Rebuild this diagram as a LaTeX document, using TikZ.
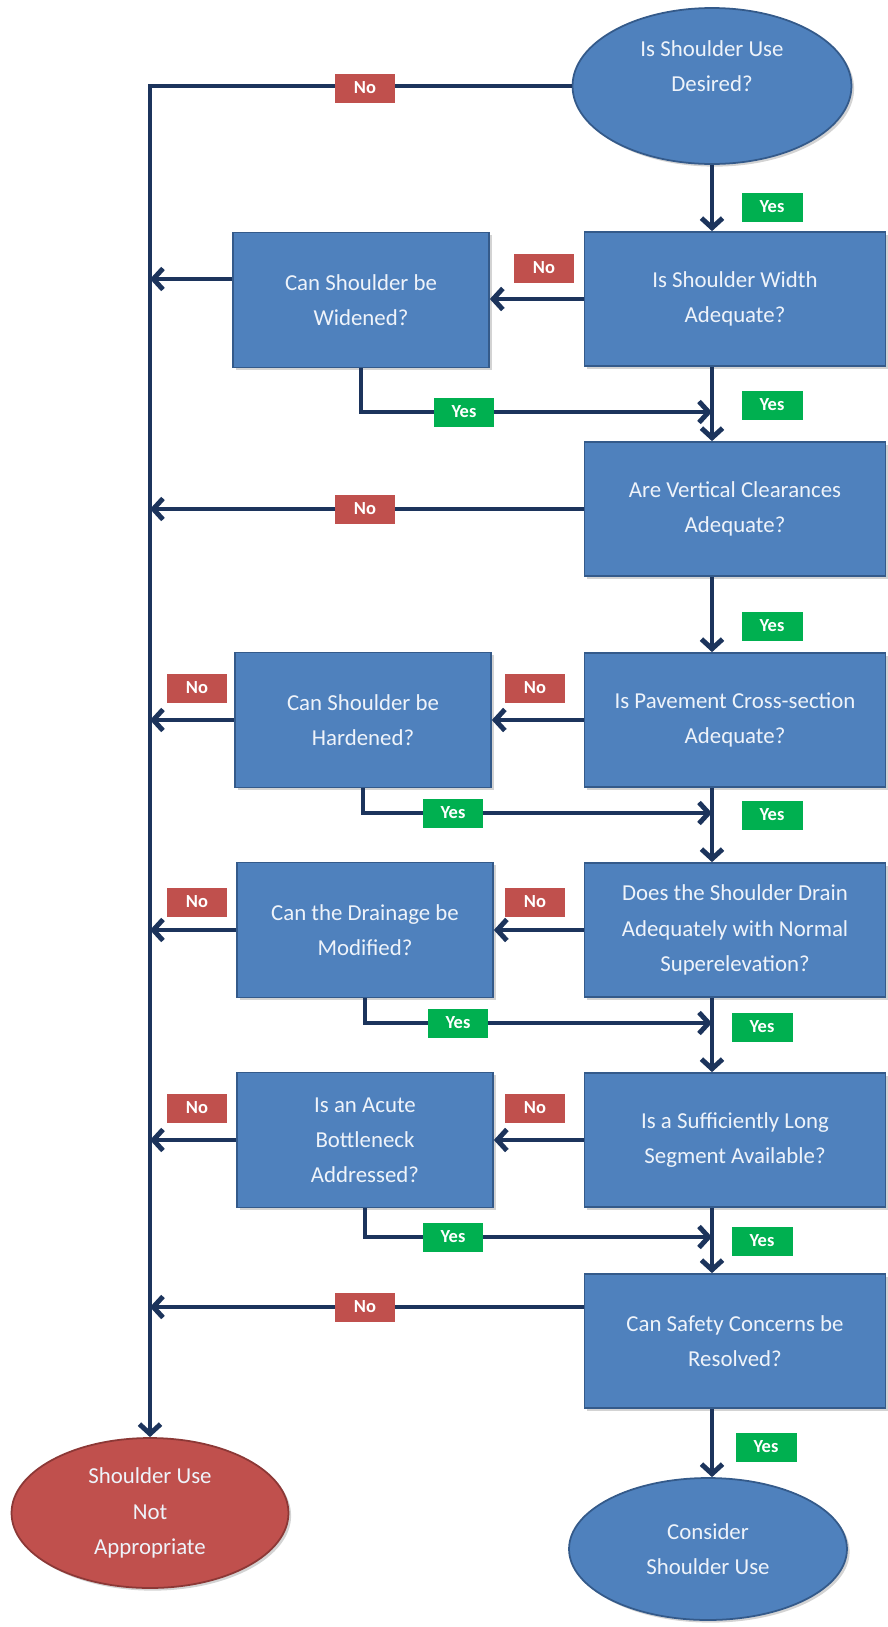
\documentclass[tikz,border=0pt]{standalone}
\usepackage{fontspec}
\setmainfont{Carlito}
\usetikzlibrary{arrows.meta,positioning,shapes.geometric,shadows}
\definecolor{fcblue}{RGB}{79,129,189}
\definecolor{fcblueedge}{RGB}{52,90,138}
\definecolor{fcred}{RGB}{192,80,77}
\definecolor{fcrededge}{RGB}{140,56,54}
\definecolor{fcnavy}{RGB}{28,52,92}
\definecolor{fcgreen}{RGB}{0,176,80}
\definecolor{fcno}{RGB}{192,80,77}
\definecolor{fctext}{RGB}{238,243,250}

\begin{document}
\begin{tikzpicture}[x=0.02cm,y=-0.02cm,
  qbox/.style={draw=fcblueedge,line width=1pt,fill=fcblue,text=fctext,
               minimum width=6.02cm,minimum height=2.68cm,align=center,
               drop shadow={opacity=0.35,shadow xshift=1.5pt,shadow yshift=-1.5pt},
               font=\fontsize{13}{20}\selectfont},
  sbox/.style={qbox,minimum width=5.12cm,minimum height=2.7cm},
  term/.style={ellipse,draw=fcblueedge,line width=1pt,fill=fcblue,text=fctext,
               align=center,inner sep=0pt,font=\fontsize{13}{20}\selectfont,
               drop shadow={opacity=0.35,shadow xshift=1.5pt,shadow yshift=-1.5pt}},
  yes/.style={fill=fcgreen,text=white,font=\fontsize{10.5}{11}\selectfont\bfseries,
              minimum width=1.22cm,minimum height=0.58cm,inner sep=0pt},
  no/.style={yes,fill=fcno},
  arr/.style={draw=fcnavy,line width=2.8pt,-{Straight Barb[length=5.5pt,width=12pt]}}]
  \useasboundingbox (0,0) rectangle (888,1627);
  % Start and end
  \node[term,minimum width=5.58cm,minimum height=3.12cm,text depth=0.8cm] (start) at (712,86) {Is Shoulder Use\\Desired?};
  \node[term,fill=fcred,draw=fcrededge,minimum width=5.54cm,minimum height=3cm] (notok) at (150,1513) {Shoulder Use\\Not\\Appropriate};
  \node[term,minimum width=5.56cm,minimum height=2.84cm] (use) at (708,1549) {Consider\\Shoulder Use};
  % Main questions
  \node[qbox] (width) at (735,299) {Is Shoulder Width\\Adequate?};
  \node[qbox] (clear) at (735,509) {Are Vertical Clearances\\Adequate?};
  \node[qbox] (pave) at (735,720) {Is Pavement Cross-section\\Adequate?};
  \node[qbox] (drain) at (735,930) {Does the Shoulder Drain\\Adequately with Normal\\Superelevation?};
  \node[qbox] (long) at (735,1140) {Is a Sufficiently Long\\Segment Available?};
  \node[qbox] (safe) at (735,1341) {Can Safety Concerns be\\Resolved?};
  % Fixes
  \node[sbox] (widen) at (361,300) {Can Shoulder be\\Widened?};
  \node[sbox] (harden) at (363,720) {Can Shoulder be\\Hardened?};
  \node[sbox] (modify) at (365,930) {Can the Drainage be\\Modified?};
  \node[sbox] (acute) at (365,1140) {Is an Acute\\Bottleneck\\Addressed?};
  % Junctions on the main line
  \coordinate (j1) at (712,412);
  \coordinate (j2) at (712,813);
  \coordinate (j3) at (712,1023);
  \coordinate (j4) at (712,1237);
  % Main column
  \draw[arr] (start.south) -- (width.north -| start);
  \draw[arr] (width.south -| start) -- (clear.north -| start);
  \draw[arr] (clear.south -| start) -- (pave.north -| start);
  \draw[arr] (pave.south -| start) -- (drain.north -| start);
  \draw[arr] (drain.south -| start) -- (long.north -| start);
  \draw[arr] (long.south -| start) -- (safe.north -| start);
  \draw[arr] (safe.south -| start) -- (use.north -| start);
  % No branches
  \draw[arr] (start.west) -| (notok.north);
  \draw[arr] (width.west) -- (width.west -| widen.east);
  \draw[arr] ([yshift=0.42cm]widen.west) -- ([yshift=0.42cm]widen.west -| notok);
  \draw[arr] (clear.west) -- (clear.west -| notok);
  \draw[arr] (pave.west) -- (pave.west -| harden.east);
  \draw[arr] (harden.west) -- (harden.west -| notok);
  \draw[arr] (drain.west) -- (drain.west -| modify.east);
  \draw[arr] (modify.west) -- (modify.west -| notok);
  \draw[arr] (long.west) -- (long.west -| acute.east);
  \draw[arr] (acute.west) -- (acute.west -| notok);
  \draw[arr] ([yshift=0.68cm]safe.west) -- ([yshift=0.68cm]safe.west -| notok);
  % Yes detours
  \draw[arr] (widen.south) |- (j1);
  \draw[arr] (harden.south) |- (j2);
  \draw[arr] (modify.south) |- (j3);
  \draw[arr] (acute.south) |- (j4);
  % Labels
  \node[yes] (y0) at (772,207) {Yes};
  \node[yes] (y1) at (772,405) {Yes};
  \node[yes] (y1b) at (464,412) {Yes};
  \node[yes] (y2) at (772,626) {Yes};
  \node[yes] (y3) at (772,815) {Yes};
  \node[yes] (y3b) at (453,813) {Yes};
  \node[yes] (y4) at (762,1027) {Yes};
  \node[yes] (y4b) at (458,1023) {Yes};
  \node[yes] (y5) at (762,1241) {Yes};
  \node[yes] (y5b) at (453,1237) {Yes};
  \node[yes] (y6) at (766,1447) {Yes};
  \node[no] (n0) at (365,88) {No};
  \node[no] (n1) at (544,268) {No};
  \node[no] (n2) at (365,509) {No};
  \node[no] (n3) at (197,688) {No};
  \node[no] (n3b) at (535,688) {No};
  \node[no] (n4) at (197,902) {No};
  \node[no] (n4b) at (535,902) {No};
  \node[no] (n5) at (197,1108) {No};
  \node[no] (n5b) at (535,1108) {No};
  \node[no] (n6) at (365,1307) {No};
\end{tikzpicture}
\end{document}
